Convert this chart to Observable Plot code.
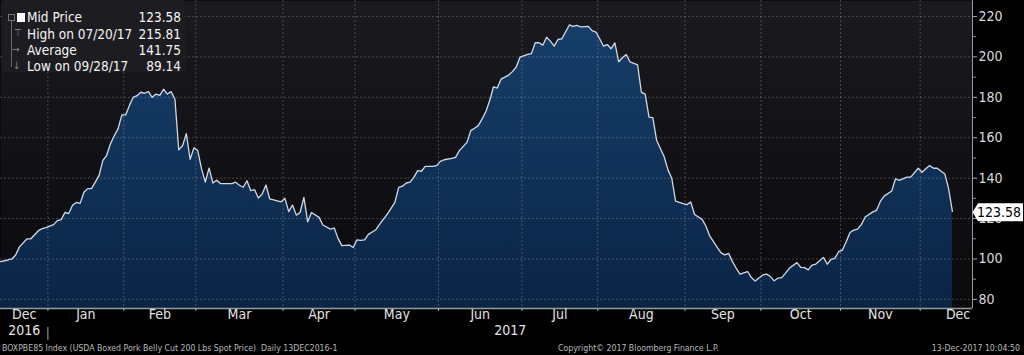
<!DOCTYPE html>
<html><head><meta charset="utf-8">
<script src="https://cdn.jsdelivr.net/npm/d3@7"></script>
<script src="https://cdn.jsdelivr.net/npm/@observablehq/plot@0.6"></script>
<style>
body{margin:0;background:#000;}
#wrap{position:relative;width:1024px;height:355px;background:#000;overflow:hidden;font-family:"DejaVu Sans Condensed","DejaVu Sans",sans-serif;font-stretch:condensed;}
#legend{position:absolute;left:2px;top:0;width:183px;height:72px;background:#1d1c21;border-radius:2px;color:#f4f4f4;font-size:13.5px;}
#legend .row{position:absolute;left:25px;width:154px;height:16px;line-height:16px;}
#legend .row .v{position:absolute;right:0;top:0;}
#legend .ic{position:absolute;color:#8a8a8a;font-size:10px;line-height:10px;}
#footer{position:absolute;left:0;top:342px;width:1024px;height:13px;color:#b8b8b8;font-size:8.7px;line-height:13px;}
#footer span{position:absolute;top:0;white-space:pre;}
</style></head><body><div id="wrap"></div>
<script>
// ---- data ----
const startDate = "2016-12-13";
const calendarEnd = "2018-02-01";
const holidays = ["2016-12-26","2017-01-02","2017-01-16","2017-02-20","2017-04-14","2017-05-29","2017-07-04","2017-09-04","2017-10-09","2017-11-23","2017-12-25","2018-01-01"];
// trading-day index since 13 Dec 2016
const day = [0,2,3,4,5,7,8,10,11,12,14,15,16,17,18,19,20,21,22,23,24,25,26,27,28,29,30,31,32,33,34,35,36,37,38,39,40,41,42,43,44,45,46,47,48,49,50,51,52,53,54,55,56,57,58,61,62,63,64,65,66,67,68,69,70,71,72,74,75,76,77,78,79,80,81,82,84,85,87,88,89,90,92,93,94,95,96,97,99,100,102,104,105,106,107,108,109,110,111,112,114,115,116,117,119,120,121,123,124,125,126,127,128,129,130,131,132,134,135,136,137,139,140,141,142,143,144,145,146,147,148,149,150,151,152,153,155,156,157,158,159,160,161,162,163,164,165,166,167,168,169,170,171,172,173,175,176,177,178,180,181,182,183,185,186,187,189,190,191,192,193,194,195,197,198,199,201,202,203,204,205,206,207,208,210,211,212,213,214,215,217,218,219,220,221,222,223,224,225,226,227,228,230,231,232,233,235,236,237,239,240,242,243,244,245,246,247,249,250,251];
const price = [98.7,99.5,100,102,106,110,110,114,115,115.5,117,119,119.5,123,122.5,126.6,128,127.5,133,134.8,134.8,138,141.4,148.8,151.3,157,161,164.4,171.3,171.3,176,180,180.8,182.5,182,182.8,180,181.6,181,184,181.6,182.8,179,154,156,162,149.3,155,153.7,144.7,138,145,137.6,139,137.3,137.3,138,136.5,135.5,138.7,133.8,134.3,130.2,132.1,136.6,129.7,129.3,128.3,130,123.4,126.7,121.7,123,130.5,118.4,123,120.6,116.8,114.8,115.3,110.2,106.6,106.9,105.7,109.5,109.2,109.5,112.2,114.5,117.3,122.2,128,135.4,136,137.6,138,140.4,143.7,143.4,145.8,145.8,146.2,148.3,149.1,149.8,150.3,153.6,157.7,163.5,164.7,166,169.3,173,178.4,185.2,184.6,189,191,192.7,195,199.9,201.2,201.6,207,207,205.8,209.7,207.8,205.3,208.6,208.9,212.3,215.81,215.1,215.6,214.8,215.1,213,212.3,209,205.3,206.1,204,206.9,197.6,199.6,201.2,197.5,196.8,196,182.4,181.6,170.2,169.9,158.8,150.6,144.1,140,128.6,127.4,126.9,128.2,122,119.6,116.3,111.4,105.7,103,102,102.8,98.7,95.4,92.5,93.8,90.8,89.14,92.1,92.5,91.3,89.2,90.5,90.8,93,95.4,98.2,95.9,95.7,94.6,97,97.5,100.8,97.4,99.8,100.3,103.6,104.4,108.5,113.1,114.3,114.8,117,120.8,123.3,124.1,128.5,131.1,133.6,139.7,138.9,140.5,140.5,144.9,142.9,144.6,146.2,144.9,144.9,142.1,134.8,123.58];
const yMajorTicks = [80,100,120,140,160,180,200,220];
const yMinorTicks = [90,110,130,150,170,190,210];
const monthNames = ["Dec","Jan","Feb","Mar","Apr","May","Jun","Jul","Aug","Sep","Oct","Nov","Dec"];
const yearNames = ["2016","2017"];
const legendLabels = ["Mid Price","High on 07/20/17","Average","Low on 09/28/17"];
const legendValues = ["123.58","215.81","141.75","89.14"];
const lastPrice = 123.58;
const footerLeft = "BOXPBE85 Index (USDA Boxed Pork Belly Cut 200 Lbs Spot Price)  Daily 13DEC2016-1";
const footerMid = "Copyright\u00A9 2017 Bloomberg Finance L.P.";
const footerRight = "13-Dec-2017 10:04:50";

// ---- trading calendar ----
const hol = new Set(holidays);
const fmt = d3.utcFormat("%Y-%m-%d");
const cal = d3.utcDay.range(new Date(startDate + "T00:00Z"), new Date(calendarEnd + "T00:00Z"))
  .filter(d => d.getUTCDay() % 6 !== 0 && !hol.has(fmt(d)));
const bounds = [];
cal.forEach((d, i) => {
  if (i === 0) bounds.push(0);
  else if (d.getUTCMonth() !== cal[i - 1].getUTCMonth()) bounds.push(i - 0.5);
});
const X_MAX = 256.3;
const monthLabels = monthNames.map((name, k) => ({name, pos: (bounds[k] + bounds[k + 1]) / 2}));
const monthTicks = bounds.slice(1, 13);
const yearLabels = [
  {name: yearNames[0], pos: (0 + bounds[1]) / 2},
  {name: yearNames[1], pos: (bounds[1] + X_MAX) / 2}
];
const data = day.map((d, i) => ({day: d, price: price[i]}));
const Y_MIN = 75.5, Y_MAX = 227.9;
const FONT = '"DejaVu Sans Condensed","DejaVu Sans",sans-serif';

const plot = Plot.plot({
  width: 1024, height: 342,
  marginLeft: 0, marginRight: 52, marginTop: 0, marginBottom: 34,
  style: {background: "transparent", color: "#d8d8d8", fontFamily: FONT, fontSize: "14px", fontStretch: "condensed"},
  x: {domain: [0, X_MAX]},
  y: {domain: [Y_MIN, Y_MAX]},
  marks: [
    Plot.frame({fill: "url(#bgGrad)", stroke: null}),
    Plot.areaY(data, {x: "day", y1: Y_MIN, y2: "price", fill: "url(#areaGrad)"}),
    Plot.ruleY(yMajorTicks, {stroke: "#ffffff", strokeOpacity: 0.22, strokeDasharray: "2,2"}),
    Plot.ruleX(monthTicks, {stroke: "#ffffff", strokeOpacity: 0.22, strokeDasharray: "2,2"}),
    Plot.lineY(data, {x: "day", y: "price", stroke: "#d2d8e2", strokeWidth: 1.3}),
    Plot.ruleY([Y_MIN], {stroke: "#9a9a9a", strokeWidth: 1.5}),
    Plot.ruleX([X_MAX], {stroke: "#9a9a9a", strokeWidth: 1}),
    Plot.axisY({anchor: "right", ticks: yMajorTicks, tickSize: 4, tickPadding: 2, label: null, stroke: "#aaa", fill: "#dadada", fontSize: 14}),
    Plot.axisY({anchor: "right", ticks: yMinorTicks, tickSize: 3, tickFormat: () => "", label: null, stroke: "#888"}),
    Plot.axisX({ticks: monthTicks, tickSize: 3, tickPadding: 0, tickFormat: () => "", label: null, stroke: "#aaa"}),
    Plot.axisX({ticks: [bounds[1]], tickSize: 13, dy: 19, tickFormat: () => "", label: null, stroke: "#aaa"}),
    Plot.text(monthLabels, {x: "pos", text: "name", frameAnchor: "bottom", dy: 10.5, fill: "#e4e4e4", fontSize: 14}),
    Plot.text(yearLabels, {x: "pos", text: "name", frameAnchor: "bottom", dy: 26, fill: "#e4e4e4", fontSize: 14})
  ]
});

const wrap = document.getElementById("wrap");
wrap.appendChild(plot);
const svg = d3.select(plot);
svg.insert("defs", ":first-child").html(
  '<linearGradient id="bgGrad" x1="0" y1="0" x2="0" y2="1"><stop offset="0" stop-color="#1a1a1f"/><stop offset="1" stop-color="#0a0a0d"/></linearGradient>' +
  '<linearGradient id="areaGrad" gradientUnits="userSpaceOnUse" x1="0" y1="0" x2="0" y2="308"><stop offset="0" stop-color="#17416d"/><stop offset="1" stop-color="#0a2445"/></linearGradient>'
);
// last value tag on the right axis
const yc = plot.scale("y").apply(lastPrice) + 1.5;
const xr = plot.scale("x").apply(X_MAX);
svg.append("path")
  .attr("d", `M${xr + 0.5},${yc} L${xr + 6},${yc - 9} H1023 V${yc + 9} H${xr + 6} Z`)
  .attr("fill", "#ffffff");
svg.append("text").attr("x", 1021).attr("y", yc).attr("dy", "0.35em")
  .attr("text-anchor", "end").attr("fill", "#000").attr("font-size", 14)
  .attr("font-family", FONT).attr("font-stretch", "condensed").text(lastPrice.toFixed(2));

// legend overlay
const lg = document.createElement("div");
lg.id = "legend";
const rowTops = [9, 25.5, 42, 58];
legendLabels.forEach((t, i) => {
  const r = document.createElement("div");
  r.className = "row";
  r.style.top = rowTops[i] + "px";
  r.textContent = t;
  const v = document.createElement("span");
  v.className = "v";
  v.textContent = legendValues[i];
  r.appendChild(v);
  lg.appendChild(r);
});
lg.insertAdjacentHTML("beforeend",
  '<div style="position:absolute;left:6px;top:14px;width:5px;height:5px;border:1px solid #777"></div>' +
  '<div style="position:absolute;left:15px;top:13px;width:8px;height:9px;background:#fff"></div>' +
  '<div style="position:absolute;left:9px;top:21px;width:1px;height:46px;background:#666"></div>' +
  '<span class="ic" style="left:12px;top:28px">\u22A4</span>' +
  '<span class="ic" style="left:10px;top:45px">\u2192</span>' +
  '<span class="ic" style="left:11px;top:61px">\u2193</span>');
wrap.appendChild(lg);

// footer
const ft = document.createElement("div");
ft.id = "footer";
ft.innerHTML = '<span style="left:2px"></span><span style="left:558px"></span><span style="right:4px"></span>';
const sp = ft.querySelectorAll("span");
sp[0].textContent = footerLeft;
sp[1].textContent = footerMid;
sp[2].textContent = footerRight;
wrap.appendChild(ft);
</script>
</body></html>
